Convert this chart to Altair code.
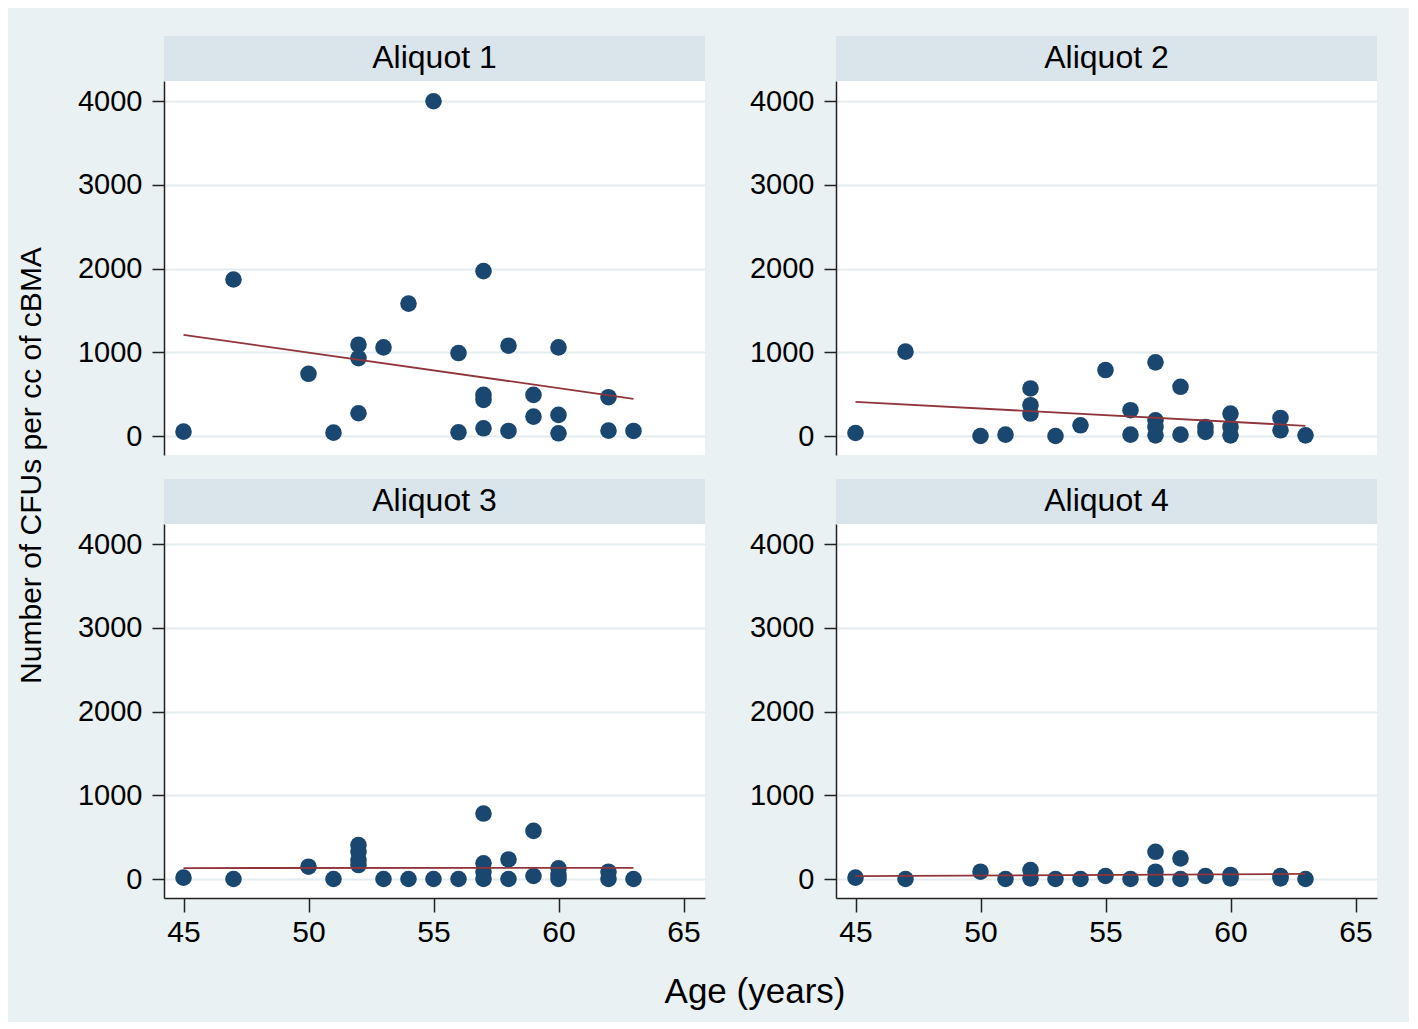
import altair as alt
import pandas as pd

# ---- data ----
ages_1 = [45, 47, 50, 51, 52, 52, 52, 53, 54, 55, 56, 56, 57, 57, 57, 57, 58, 58, 59, 59, 60, 60, 60, 62, 62, 63]
cfu_1 = [52, 1870, 743, 40, 1091, 931, 272, 1059, 1582, 4000, 991, 44, 1970, 491, 432, 92, 1079, 60, 491, 232, 1059, 252, 32, 464, 64, 60]

ages_2 = [45, 47, 50, 51, 52, 52, 52, 53, 54, 55, 56, 56, 57, 57, 57, 57, 58, 58, 59, 59, 60, 60, 60, 62, 62, 63]
cfu_2 = [36, 1008, 0, 16, 568, 368, 268, 0, 128, 788, 308, 16, 880, 188, 108, 8, 588, 16, 108, 48, 268, 108, 8, 216, 68, 8]

ages_3 = [45, 47, 50, 51, 52, 52, 52, 52, 53, 54, 55, 56, 57, 57, 57, 57, 58, 58, 59, 59, 60, 60, 60, 62, 62, 63]
cfu_3 = [16, 0, 147, 0, 405, 325, 226, 167, 0, 0, 0, 0, 782, 187, 87, 0, 234, 0, 575, 36, 127, 48, 0, 87, 0, 0]

ages_4 = [45, 47, 50, 51, 52, 52, 53, 54, 55, 56, 57, 57, 57, 58, 58, 59, 60, 60, 62, 62, 63]
cfu_4 = [16, 0, 87, 0, 107, 8, 0, 0, 36, 0, 325, 87, 0, 246, 0, 36, 48, 8, 36, 8, 0]

panel_labels = ["Aliquot 1", "Aliquot 2", "Aliquot 3", "Aliquot 4"]
x_ticks = [45, 50, 55, 60, 65]
y_ticks = [0, 1000, 2000, 3000, 4000]
x_title = "Age (years)"
y_title = "Number of CFUs per cc of cBMA"

rows = []
for k, (a, c) in enumerate([(ages_1, cfu_1), (ages_2, cfu_2), (ages_3, cfu_3), (ages_4, cfu_4)], start=1):
    for ai, ci in zip(a, c):
        rows.append({"aliquot": k, "age": ai, "cfu": ci})
df = pd.DataFrame(rows)

# ---- style ----
W, H = 541, 374
XDOM = [44.22, 65.86]
YDOM = [-227, 4242]
BG = "#e9f1f3"
STRIP = "#d9e5ea"
GRID = "#e3ecef"
NAVY = "#1a476f"
MAROON = "#90353b"
FONT = "Liberation Sans"
AXC = "#222222"


def panel(k, bottom, with_ytitle=False, with_xtitle=False):
    d = df[df.aliquot == k]
    if bottom:
        xaxis = alt.Axis(values=x_ticks, title=None, grid=False, tickSize=14, labelPadding=5,
                         labelFontSize=30, labelFont=FONT, labelColor="black", format="d",
                         domainColor=AXC, domainWidth=1.5, tickColor=AXC, tickWidth=1.5)
    else:
        xaxis = None
    x = alt.X("age:Q", scale=alt.Scale(domain=XDOM, nice=False, zero=False), axis=xaxis)
    y = alt.Y("cfu:Q", scale=alt.Scale(domain=YDOM, nice=False, zero=False),
              axis=alt.Axis(values=y_ticks, title=None, grid=True, gridColor=GRID, gridWidth=2,
                            tickSize=12, labelPadding=10, labelFontSize=29, labelFont=FONT,
                            labelColor="black", domainColor=AXC, domainWidth=1.5, format="d",
                            tickColor=AXC, tickWidth=1.5))
    pts = alt.Chart(d).mark_circle(size=275, color=NAVY, opacity=1).encode(x=x, y=y)
    reg = (alt.Chart(d).transform_regression("age", "cfu")
           .mark_line(color=MAROON, strokeWidth=1.8).encode(x=x, y=y))
    lab = pd.DataFrame({"label": [panel_labels[k - 1]]})
    strip = alt.Chart(lab).mark_rect(color=STRIP).encode(
        x=alt.value(0), x2=alt.value(W), y=alt.value(-45), y2=alt.value(0))
    stext = alt.Chart(lab).mark_text(fontSize=32, font=FONT, color="black",
                                     baseline="alphabetic", align="center").encode(
        x=alt.value(W / 2), y=alt.value(-13.5), text="label:N")
    layers = [strip, stext, pts, reg]
    if with_ytitle:
        yt = pd.DataFrame({"label": [y_title]})
        layers.append(alt.Chart(yt).mark_text(fontSize=30, font=FONT, color="black", angle=270,
                                              baseline="alphabetic", align="center").encode(
            x=alt.value(-123.5), y=alt.value(384.5), text="label:N"))
    if with_xtitle:
        xt = pd.DataFrame({"label": [x_title]})
        layers.append(alt.Chart(xt).mark_text(fontSize=35, font=FONT, color="black",
                                              baseline="alphabetic", align="center").encode(
            x=alt.value(591), y=alt.value(479), text="label:N"))
    return alt.layer(*layers).properties(width=W, height=H)


chart = alt.concat(
    panel(1, False, with_ytitle=True),
    panel(2, False),
    panel(3, True, with_xtitle=True),
    panel(4, True),
    columns=2,
    spacing={"column": 131, "row": 69},
    bounds="flush",
).properties(
    background=BG,
    padding={"left": 8, "top": 28, "right": 32, "bottom": 12},
).configure_view(stroke=None, fill="white")

chart.save("out.html", embed_options={"renderer": "svg", "actions": False})
